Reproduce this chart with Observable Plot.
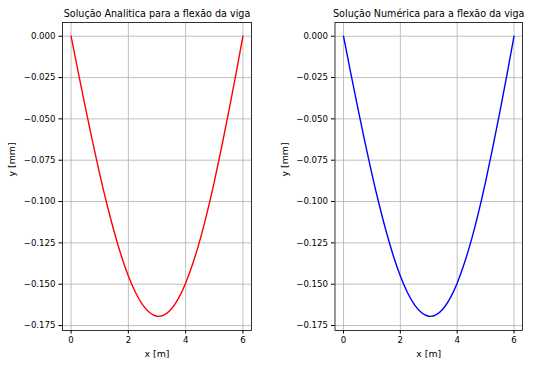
<!DOCTYPE html>
<html>
<head>
<meta charset="utf-8">
<script src="https://cdn.jsdelivr.net/npm/d3@7"></script>
<script src="https://cdn.jsdelivr.net/npm/@observablehq/plot@0.6"></script>
<style>
  html, body { margin: 0; padding: 0; background: #fff; }
  #wrap { position: relative; width: 542px; height: 367px; overflow: hidden; }
  #wrap > div { position: absolute; top: 0; }
</style>
</head>
<body>
<div id="wrap"><div id="p1" style="left:0"></div><div id="p2" style="left:271px"></div></div>
<script>
// Data (beam deflection, x in m, y in mm)
const xValues = [0, 0.25, 0.5, 0.75, 1, 1.25, 1.5, 1.75, 2, 2.25, 2.5, 2.75, 3, 3.25, 3.5, 3.75, 4, 4.25, 4.5, 4.75, 5, 5.25, 5.5, 5.75, 6];
const yAnalitica = [0, -0.0218, -0.0432, -0.0638, -0.0834, -0.1015, -0.1180, -0.1326, -0.1450, -0.1550, -0.1625, -0.1673, -0.1694, -0.1686, -0.1650, -0.1586, -0.1494, -0.1375, -0.1233, -0.1067, -0.0881, -0.0676, -0.0460, -0.0236, 0];
const yNumerica = [0, -0.0218, -0.0432, -0.0638, -0.0834, -0.1015, -0.1180, -0.1326, -0.1450, -0.1550, -0.1625, -0.1673, -0.1694, -0.1686, -0.1650, -0.1586, -0.1494, -0.1375, -0.1233, -0.1067, -0.0881, -0.0676, -0.0460, -0.0236, 0];
const xTicks = [0, 2, 4, 6];
const xTickLabels = ["0", "2", "4", "6"];
const yTicks = [0, -0.025, -0.05, -0.075, -0.1, -0.125, -0.15, -0.175];
const yTickLabels = ["0.000", "\u22120.025", "\u22120.050", "\u22120.075", "\u22120.100", "\u22120.125", "\u22120.150", "\u22120.175"];
const titles = ["Solução Analitica para a flexão da viga", "Solução Numérica para a flexão da viga"];
const colors = ["red", "blue"];
const xLabel = "x [m]";
const yLabel = "y [mm]";

function panel(ys, title, color, ml) {
  const data = xValues.map((x, i) => ({x, y: ys[i]}));
  return Plot.plot({
    width: 271, height: 367,
    marginLeft: ml, marginRight: 20, marginTop: 22, marginBottom: 37,
    style: {fontFamily: "DejaVu Sans", fontSize: "8.6px", color: "#000", background: "#fff", overflow: "visible"},
    x: {domain: [-0.3, 6.3]},
    y: {domain: [-0.178, 0.0083]},
    marks: [
      Plot.gridX(xTicks, {stroke: "#b0b0b0", strokeOpacity: 1, strokeWidth: 0.8}),
      Plot.gridY(yTicks, {stroke: "#b0b0b0", strokeOpacity: 1, strokeWidth: 0.8}),
      Plot.line(data, {x: "x", y: "y", stroke: color, strokeWidth: 1.4, curve: "natural"}),
      Plot.frame({stroke: "#000", strokeWidth: 0.8}),
      Plot.axisX(xTicks, {tickSize: 3.5, tickPadding: 3, tickFormat: (d, i) => xTickLabels[i], label: null}),
      Plot.axisY(yTicks, {tickSize: 3.5, tickPadding: 3.5, tickFormat: (d, i) => yTickLabels[i], label: null}),
      Plot.text([xLabel], {frameAnchor: "bottom", dy: 23, fontSize: 9.4, lineAnchor: "middle"}),
      Plot.text([yLabel], {frameAnchor: "left", dx: -50.5, rotate: -90, fontSize: 9.4, lineAnchor: "middle"}),
      Plot.text([title], {frameAnchor: "top", dy: -9, fontSize: 9.6, lineAnchor: "middle"})
    ]
  });
}
document.getElementById("p1").appendChild(panel(yAnalitica, titles[0], colors[0], 62));
document.getElementById("p2").appendChild(panel(yNumerica, titles[1], colors[1], 63.5));
</script>
</body>
</html>
